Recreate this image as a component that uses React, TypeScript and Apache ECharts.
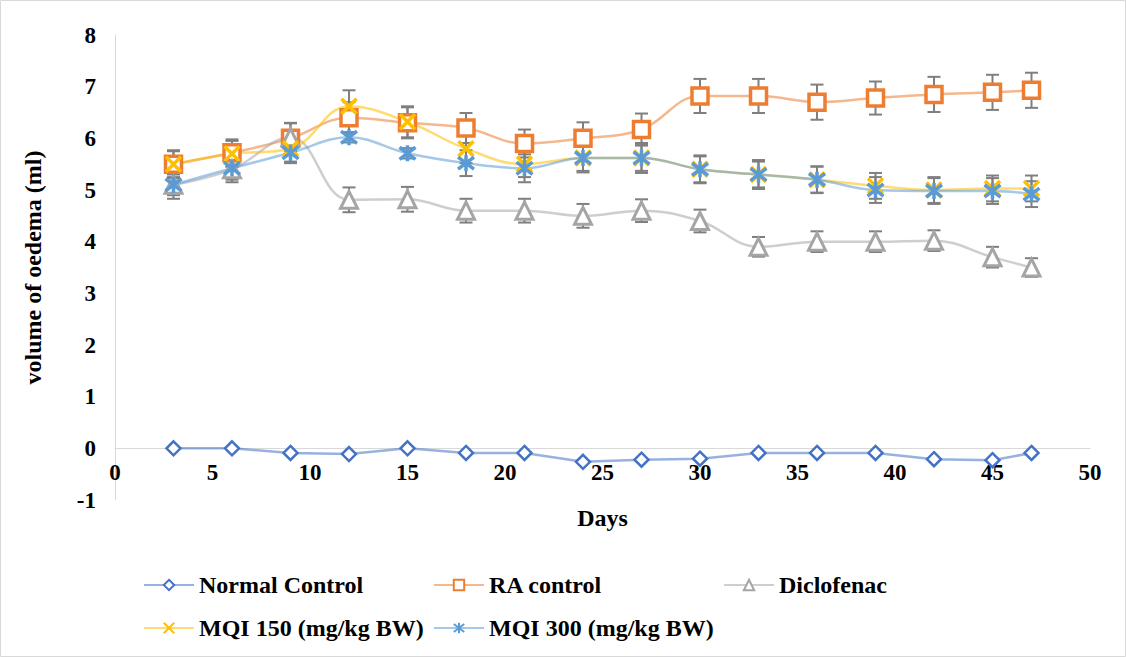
import React, { useEffect, useRef } from 'react';
import * as echarts from 'echarts';

const days = [3, 6, 9, 12, 15, 18, 21, 24, 27, 30, 33, 36, 39, 42, 45, 47];
const xTicks = [0, 5, 10, 15, 20, 25, 30, 35, 40, 45, 50];
const yTicks = [-1, 0, 1, 2, 3, 4, 5, 6, 7, 8];

const normalControl = [0, 0, -0.09, -0.11, 0, -0.09, -0.09, -0.26, -0.22, -0.2, -0.09, -0.09, -0.09, -0.21, -0.23, -0.09];
const raControl = [5.5, 5.72, 6.0, 6.4, 6.3, 6.2, 5.9, 6.0, 6.17, 6.82, 6.82, 6.7, 6.78, 6.85, 6.89, 6.93];
const diclofenac = [5.1, 5.4, 6.02, 4.81, 4.82, 4.6, 4.6, 4.5, 4.6, 4.4, 3.9, 4.0, 4.0, 4.02, 3.7, 3.5];
const mqi150 = [5.5, 5.7, 5.8, 6.62, 6.32, 5.8, 5.5, 5.62, 5.62, 5.4, 5.3, 5.2, 5.08, 5.0, 5.03, 5.03];
const mqi300 = [5.1, 5.42, 5.72, 6.02, 5.71, 5.52, 5.42, 5.62, 5.62, 5.4, 5.3, 5.2, 5.0, 4.98, 4.98, 4.92];

const raErr = [0.27, 0.26, 0.3, 0.3, 0.3, 0.29, 0.27, 0.31, 0.31, 0.33, 0.33, 0.34, 0.32, 0.34, 0.34, 0.34];
const diclErr = [0.2, 0.2, 0.27, 0.24, 0.24, 0.23, 0.23, 0.23, 0.22, 0.22, 0.19, 0.2, 0.2, 0.2, 0.2, 0.18];
const mqi150Err = [0.25, 0.25, 0.25, 0.31, 0.3, 0.28, 0.25, 0.25, 0.25, 0.25, 0.25, 0.25, 0.25, 0.25, 0.25, 0.25];
const mqi300Err = [0.27, 0.27, 0.2, 0.1, 0.1, 0.25, 0.27, 0.28, 0.29, 0.27, 0.28, 0.26, 0.25, 0.25, 0.25, 0.25];

const names = ['Normal Control', 'RA control', 'Diclofenac', 'MQI 150 (mg/kg BW)', 'MQI 300 (mg/kg BW)'];

const FONT = '"Liberation Serif", "Times New Roman", serif';

export default function App() {
  const ref = useRef<HTMLDivElement>(null);

  useEffect(() => {
    const chart = echarts.init(ref.current as HTMLDivElement, null, { renderer: 'svg' });

    const line = (
      name: string,
      values: number[],
      color: string,
      symbol: string,
      size: number,
      hollow: boolean,
      smooth: number | boolean,
      bw: number
    ) => ({
      name,
      type: 'line',
      data: days.map((d, i) => [d, values[i]]),
      smooth,
      symbol,
      symbolSize: size,
      showSymbol: true,
      lineStyle: { color, width: 2.5, opacity: 0.55 },
      itemStyle: { color: hollow ? '#ffffff' : color, borderColor: color, borderWidth: bw },
      emphasis: { disabled: true },
      z: 3,
    });

    const errBars = (name: string, values: number[], errs: number[]) => ({
      name: name + ' err',
      type: 'custom',
      z: 2,
      silent: true,
      data: days.map((d, i) => [d, values[i] - errs[i], values[i] + errs[i]]),
      renderItem: (_p: any, api: any) => {
        const x = api.value(0);
        const lo = api.coord([x, api.value(1)]);
        const hi = api.coord([x, api.value(2)]);
        const w = 6.5;
        const style = { stroke: '#7f7f7f', lineWidth: 2 };
        return {
          type: 'group',
          children: [
            { type: 'line', shape: { x1: lo[0], y1: lo[1], x2: hi[0], y2: hi[1] }, style },
            { type: 'line', shape: { x1: hi[0] - w, y1: hi[1], x2: hi[0] + w, y2: hi[1] }, style },
            { type: 'line', shape: { x1: lo[0] - w, y1: lo[1], x2: lo[0] + w, y2: lo[1] }, style },
          ],
        };
      },
    });

    const xPath = 'path://M0,0L10,10M10,0L0,10';
    const starPath = 'path://M0.8,1.2L9.2,8.8M9.2,1.2L0.8,8.8M5,0L5,10';

    const legendText = { fontFamily: FONT, fontWeight: 'bold', fontSize: 24, color: '#000' };
    const legendPos = [
      [143, 573],
      [433, 573],
      [723, 573],
      [143, 616],
      [433, 616],
    ];

    const option: any = {
      animation: false,
      backgroundColor: '#ffffff',
      grid: { left: 115, right: 36, top: 35, bottom: 157, containLabel: false },
      xAxis: {
        type: 'value',
        min: xTicks[0],
        max: xTicks[xTicks.length - 1],
        interval: xTicks[1] - xTicks[0],
        axisLine: { show: true, onZero: true, lineStyle: { color: '#d9d9d9', width: 1 } },
        axisTick: { show: false },
        splitLine: { show: false },
        axisLabel: { fontFamily: FONT, fontWeight: 'bold', fontSize: 23, color: '#000', margin: -39 },
        name: 'Days',
        nameLocation: 'middle',
        nameGap: 6,
        nameTextStyle: { fontFamily: FONT, fontWeight: 'bold', fontSize: 24, color: '#000' },
      },
      yAxis: {
        type: 'value',
        min: yTicks[0],
        max: yTicks[yTicks.length - 1],
        interval: yTicks[1] - yTicks[0],
        axisLine: { show: true, onZero: false, lineStyle: { color: '#d9d9d9', width: 1 } },
        axisTick: { show: false },
        splitLine: { show: false },
        axisLabel: { fontFamily: FONT, fontWeight: 'bold', fontSize: 23, color: '#000', margin: 19 },
        name: 'volume of oedema (ml)',
        nameLocation: 'middle',
        nameGap: 70,
        nameTextStyle: { fontFamily: FONT, fontWeight: 'bold', fontSize: 24, color: '#000' },
      },
      legend: names.map((n, i) => ({
        data: [n],
        left: legendPos[i][0],
        top: legendPos[i][1],
        padding: 0,
        itemWidth: 50,
        itemHeight: 13,
        selectedMode: false,
        textStyle: legendText,
      })),
      graphic: [
        {
          type: 'rect',
          shape: { x: 0.5, y: 0.5, width: 1125, height: 656 },
          style: { fill: 'none', stroke: '#d9d9d9', lineWidth: 1 },
          silent: true,
          z: -10,
        },
      ],
      series: [
        errBars(names[1], raControl, raErr),
        errBars(names[2], diclofenac, diclErr),
        errBars(names[3], mqi150, mqi150Err),
        errBars(names[4], mqi300, mqi300Err),
        line(names[0], normalControl, '#4472c4', 'diamond', 14, true, false, 2.5),
        line(names[1], raControl, '#ed7d31', 'rect', 16, true, 0.4, 3.5),
        line(names[2], diclofenac, '#a5a5a5', 'triangle', 17, true, 0.4, 3),
        line(names[3], mqi150, '#ffc000', xPath, 15, false, 0.4, 3.5),
        line(names[4], mqi300, '#5b9bd5', starPath, 16, false, 0.4, 3.5),
      ],
    };

    chart.setOption(option);
    return () => chart.dispose();
  }, []);

  return (
    <div
      ref={ref}
      style={{ position: 'absolute', left: 0, top: 0, width: 1126, height: 657, background: '#fff' }}
    />
  );
}
